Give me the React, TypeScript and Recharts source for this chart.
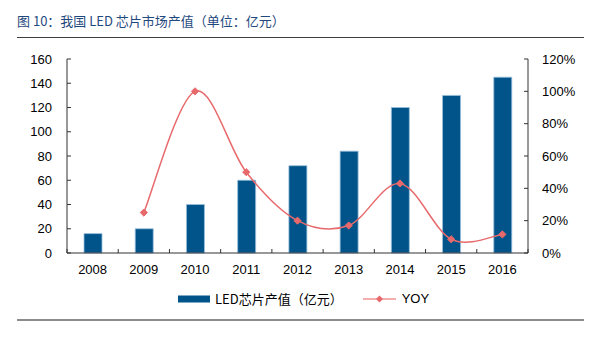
import React from 'react';
import { ComposedChart, Bar, Line, XAxis, YAxis, Legend } from 'recharts';

const years = ['2008', '2009', '2010', '2011', '2012', '2013', '2014', '2015', '2016'];
const outputValues = [16, 20, 40, 60, 72, 84, 120, 130, 145];
const yoyValues: (number | null)[] = [null, 0.25, 1.0, 0.5, 0.2, 0.17, 0.43, 0.085, 0.115];
const leftTicks = [0, 20, 40, 60, 80, 100, 120, 140, 160];
const rightTicks = [0, 0.2, 0.4, 0.6, 0.8, 1.0, 1.2];

const data = years.map((y, i) => ({ year: y, output: outputValues[i], yoy: yoyValues[i] }));

const W = 601;
const H = 343;
const PLOT_LEFT = 67;
const PLOT_RIGHT = 528;
const PLOT_TOP = 59;
const PLOT_BOTTOM = 253;
const X_AXIS_H = 30;
const BAND = (PLOT_RIGHT - PLOT_LEFT) / years.length;

const BAR_COLOR = '#00548A';
const LINE_COLOR = '#E8696B';
const AXIS_COLOR = '#333333';
const FONT = 'Arial, "Liberation Sans", sans-serif';
const CJK_FONT = '"Noto Sans CJK SC", "Microsoft YaHei", sans-serif';

// Excel-like smoothed curve (Catmull-Rom as cubic Bezier)
const excelCurve: any = (context: any) => {
  let xs: number[] = [];
  let ys: number[] = [];
  return {
    areaStart() {},
    areaEnd() {},
    lineStart() {
      xs = [];
      ys = [];
    },
    point(x: number, y: number) {
      xs.push(+x);
      ys.push(+y);
    },
    lineEnd() {
      const n = xs.length;
      if (!n) return;
      context.moveTo(xs[0], ys[0]);
      if (n === 1) return;
      for (let i = 0; i < n - 1; i++) {
        const x0 = i > 0 ? xs[i - 1] : xs[i];
        const y0 = i > 0 ? ys[i - 1] : ys[i];
        const x1 = xs[i];
        const y1 = ys[i];
        const x2 = xs[i + 1];
        const y2 = ys[i + 1];
        const x3 = i + 2 < n ? xs[i + 2] : xs[i + 1];
        const y3 = i + 2 < n ? ys[i + 2] : ys[i + 1];
        context.bezierCurveTo(
          x1 + (x2 - x0) / 6,
          y1 + (y2 - y0) / 6,
          x2 - (x3 - x1) / 6,
          y2 - (y3 - y1) / 6,
          x2,
          y2
        );
      }
    },
  };
};

const LEFT_MARGIN = 15;
const RIGHT_MARGIN = 14;
const X_MARGIN = 12;

const LeftTick = (props: any) => {
  const { x, y, payload } = props;
  const ax = x + LEFT_MARGIN;
  return (
    <g>
      <line x1={ax} x2={ax + 4} y1={y} y2={y} stroke={AXIS_COLOR} strokeWidth={1} />
      <text x={x} y={y} dy="0.36em" textAnchor="end" fontSize={13} fill="#000" fontFamily={FONT}>
        {payload.value}
      </text>
    </g>
  );
};

const RightTick = (props: any) => {
  const { x, y, payload } = props;
  const ax = x - RIGHT_MARGIN;
  return (
    <g>
      <line x1={ax - 4} x2={ax} y1={y} y2={y} stroke={AXIS_COLOR} strokeWidth={1} />
      <text x={x} y={y} dy="0.36em" textAnchor="start" fontSize={13} fill="#000" fontFamily={FONT}>
        {Math.round(payload.value * 100) + '%'}
      </text>
    </g>
  );
};

const BottomTick = (props: any) => {
  const { x, y, payload, index } = props;
  const ay = y - X_MARGIN;
  const isLast = index === years.length - 1;
  return (
    <g>
      <line x1={x - BAND / 2} x2={x - BAND / 2} y1={ay} y2={ay - 4} stroke={AXIS_COLOR} strokeWidth={1} />
      {isLast && (
        <line x1={x + BAND / 2} x2={x + BAND / 2} y1={ay} y2={ay - 4} stroke={AXIS_COLOR} strokeWidth={1} />
      )}
      <text x={x} y={y} dy="0.72em" textAnchor="middle" fontSize={13} fill="#000" fontFamily={FONT}>
        {payload.value}
      </text>
    </g>
  );
};

const Diamond = (props: any) => {
  const { cx, cy } = props;
  if (cx == null || cy == null || props.value == null) return <g />;
  const r = 3.6;
  return (
    <path
      d={`M${cx},${cy - r}L${cx + r},${cy}L${cx},${cy + r}L${cx - r},${cy}Z`}
      fill={LINE_COLOR}
      stroke={LINE_COLOR}
      strokeWidth={1}
      strokeLinejoin="round"
    />
  );
};

const LegendContent = () => (
  <div
    style={{
      display: 'flex',
      alignItems: 'center',
      justifyContent: 'flex-start',
      paddingLeft: 178,
      fontFamily: CJK_FONT,
      fontSize: 13,
      color: '#000',
      height: 18,
    }}
  >
    <svg width={33} height={10} style={{ display: 'block' }}>
      <rect x={0} y={1.5} width={32} height={7} fill={BAR_COLOR} />
    </svg>
    <span style={{ marginLeft: 4, lineHeight: '18px' }}>LED芯片产值（亿元）</span>
    <svg width={34} height={10} style={{ display: 'block', marginLeft: 20 }}>
      <line x1={0} x2={33} y1={5} y2={5} stroke={LINE_COLOR} strokeWidth={1.5} opacity={0.7} />
      <path d="M16.5,1.5L20,5L16.5,8.5L13,5Z" fill={LINE_COLOR} />
    </svg>
    <span style={{ marginLeft: 5, lineHeight: '18px', fontFamily: FONT }}>YOY</span>
  </div>
);

export default function App() {
  return (
    <div
      style={{
        position: 'absolute',
        left: 0,
        top: 0,
        width: W,
        height: H,
        background: '#fff',
        overflow: 'hidden',
      }}
    >
      <div
        style={{
          position: 'absolute',
          left: 17,
          top: 12,
          fontFamily: CJK_FONT,
          fontSize: 13,
          lineHeight: '18px',
          color: '#1F497D',
          whiteSpace: 'nowrap',
        }}
      >
        图 10：我国 LED 芯片市场产值（单位：亿元）
      </div>
      <div style={{ position: 'absolute', left: 17, top: 37, width: 567, height: 1, background: '#404040' }} />
      <div style={{ position: 'absolute', left: 17, top: 319, width: 567, height: 2, background: '#8C8C8C' }} />
      <div style={{ position: 'absolute', left: 0, top: 0 }}>
        <ComposedChart
          width={W}
          height={H}
          data={data}
          margin={{ top: PLOT_TOP, right: 0, left: 0, bottom: H - PLOT_BOTTOM - X_AXIS_H }}
        >
          <XAxis
            dataKey="year"
            height={X_AXIS_H}
            tickLine={false}
            tickSize={0}
            tickMargin={X_MARGIN}
            axisLine={{ stroke: AXIS_COLOR, strokeWidth: 1 }}
            tick={<BottomTick />}
            interval={0}
          />
          <YAxis
            yAxisId="left"
            orientation="left"
            width={PLOT_LEFT}
            domain={[0, 160]}
            ticks={leftTicks}
            tickLine={false}
            tickSize={0}
            tickMargin={LEFT_MARGIN}
            axisLine={{ stroke: AXIS_COLOR, strokeWidth: 1 }}
            tick={<LeftTick />}
            interval={0}
          />
          <YAxis
            yAxisId="right"
            orientation="right"
            width={W - PLOT_RIGHT}
            domain={[0, 1.2]}
            ticks={rightTicks}
            tickLine={false}
            tickSize={0}
            tickMargin={RIGHT_MARGIN}
            axisLine={{ stroke: AXIS_COLOR, strokeWidth: 1 }}
            tick={<RightTick />}
            interval={0}
          />
          <Bar
            yAxisId="left"
            dataKey="output"
            name="LED芯片产值（亿元）"
            fill={BAR_COLOR}
            stroke="#9BBFDC"
            strokeWidth={0.8}
            barSize={18}
            isAnimationActive={false}
          />
          <Line
            yAxisId="right"
            dataKey="yoy"
            name="YOY"
            type={excelCurve}
            stroke={LINE_COLOR}
            strokeWidth={1.5}
            dot={<Diamond />}
            activeDot={false}
            isAnimationActive={false}
          />
          <Legend
            layout="horizontal"
            verticalAlign="middle"
            align="center"
            content={<LegendContent />}
            wrapperStyle={{ position: 'absolute', top: 290, left: 0, width: W, height: 18 }}
          />
        </ComposedChart>
      </div>
    </div>
  );
}
